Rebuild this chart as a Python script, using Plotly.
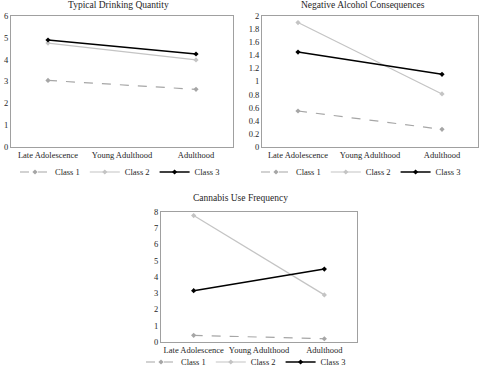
import plotly.graph_objects as go

stages = ["Late Adolescence", "Young Adulthood", "Adulthood"]

# Typical Drinking Quantity
tdq_class1 = [3.05, None, 2.64]
tdq_class2 = [4.76, None, 3.99]
tdq_class3 = [4.90, None, 4.26]

# Negative Alcohol Consequences
nac_class1 = [0.55, None, 0.27]
nac_class2 = [1.90, None, 0.81]
nac_class3 = [1.45, None, 1.11]

# Cannabis Use Frequency
cuf_class1 = [0.41, None, 0.20]
cuf_class2 = [7.78, None, 2.90]
cuf_class3 = [3.16, None, 4.49]

titles = ["Typical Drinking Quantity", "Negative Alcohol Consequences", "Cannabis Use Frequency"]
class_names = ["Class 1", "Class 2", "Class 3"]

W, H = 480, 368
FONT = "Liberation Serif"
TXT = "#262626"

def px_x(p):
    return p / W

def px_y(p):
    return (H - p) / H

panels = [
    dict(data=[tdq_class1, tdq_class2, tdq_class3], rng=[0, 6], dtick=1,
         box=(11, 233, 16, 147), title_xy=(118, 5), legend_xy=(120, 172)),
    dict(data=[nac_class1, nac_class2, nac_class3], rng=[0, 2], dtick=0.2,
         box=(262, 478, 16, 147), title_xy=(363, 5), legend_xy=(361, 172)),
    dict(data=[cuf_class1, cuf_class2, cuf_class3], rng=[0, 8], dtick=1,
         box=(161, 357, 212, 342), title_xy=(240, 198), legend_xy=(246, 362)),
]

styles = [
    dict(color="#a6a6a6", dash="dash", width=1.2),
    dict(color="#c4c4c4", dash="solid", width=1.2),
    dict(color="#000000", dash="solid", width=1.5),
]

fig = go.Figure()
layout = dict(
    width=W, height=H, margin=dict(l=0, r=0, t=0, b=0, autoexpand=False),
    paper_bgcolor="white", plot_bgcolor="white",
    font=dict(family=FONT, size=8, color=TXT),
    annotations=[], showlegend=True,
)

for i, p in enumerate(panels):
    sfx = "" if i == 0 else str(i + 1)
    xa = "x" + sfx
    ya = "y" + sfx
    lg = "legend" + sfx
    for j, vals in enumerate(p["data"]):
        st = styles[j]
        fig.add_trace(go.Scatter(
            x=stages, y=vals, mode="lines+markers", name=class_names[j],
            connectgaps=True, xaxis=xa, yaxis=ya, legend=lg,
            line=dict(color=st["color"], dash=st["dash"], width=st["width"]),
            marker=dict(symbol="diamond", size=4, color=st["color"]),
        ))
    x0, x1, y0, y1 = p["box"]
    layout["xaxis" + sfx] = dict(
        domain=[px_x(x0), px_x(x1)], anchor=ya, type="category",
        categoryorder="array", categoryarray=stages, range=[-0.5, 2.5],
        showline=True, mirror=True, linecolor="#a0a0a0", linewidth=1,
        showgrid=False, zeroline=False, ticks="", ticklen=0, tickangle=0,
        tickfont=dict(family=FONT, size=8.5, color=TXT), fixedrange=True,
    )
    layout["yaxis" + sfx] = dict(
        domain=[px_y(y1), px_y(y0)], anchor=xa, range=p["rng"],
        dtick=p["dtick"], tick0=0,
        showline=True, mirror=True, linecolor="#a0a0a0", linewidth=1,
        showgrid=False, zeroline=False, ticks="", ticklen=0,
        tickfont=dict(family=FONT, size=8.5, color=TXT), fixedrange=True,
    )
    tx, ty = p["title_xy"]
    layout["annotations"].append(dict(
        text=titles[i], xref="paper", yref="paper", x=px_x(tx), y=px_y(ty),
        xanchor="center", yanchor="middle", showarrow=False,
        font=dict(family=FONT, size=9.5, color=TXT),
    ))
    lx, ly = p["legend_xy"]
    layout[lg] = dict(
        orientation="h", x=px_x(lx), y=px_y(ly), xanchor="center", yanchor="middle",
        bgcolor="rgba(0,0,0,0)", font=dict(family=FONT, size=8.5, color=TXT),
        itemwidth=30, tracegroupgap=0,
    )

fig.update_layout(**layout)
fig.write_html("out.html", config={"displayModeBar": False},
               post_script="document.body.style.margin='0';document.body.style.overflow='hidden';")
